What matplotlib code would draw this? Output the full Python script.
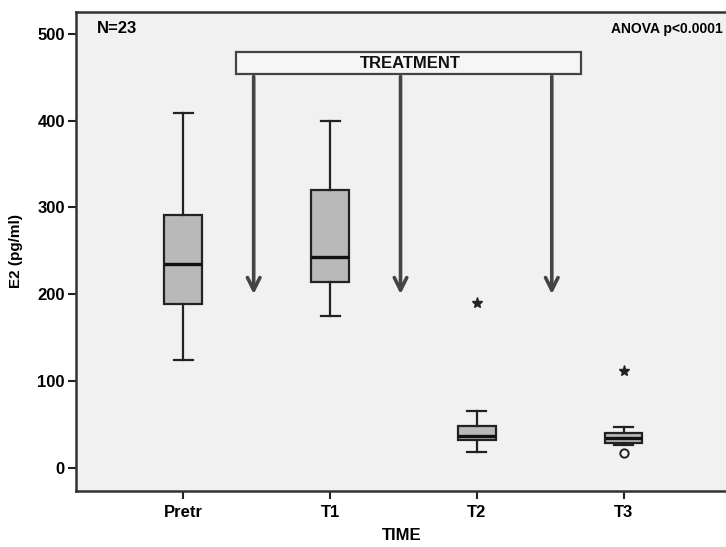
import matplotlib.pyplot as plt
from matplotlib.patches import Rectangle

plt.rcParams['font.family'] = ['Liberation Sans Narrow', 'Liberation Sans', 'DejaVu Sans']

# data (E2, pg/ml)
groups = ["Pretr", "T1", "T2", "T3"]
whis_lo = [124, 175, 18, 27]
q1 = [189, 214, 32, 29]
median = [235, 243, 37, 35]
q3 = [291, 320, 48, 40]
whis_hi = [409, 399, 66, 47]
extremes = {2: [190], 3: [112]}      # drawn as stars
outliers = {3: [17]}                 # drawn as circles
arrow_x = [0.48, 1.48, 2.51]
arrow_top = 454
arrow_tip = 197

fig = plt.figure(figsize=(7.26, 5.47), dpi=100)
ax = fig.add_axes([76 / 726, 1 - 491 / 547, 652 / 726, 479 / 547])
ax.set_facecolor('#f1f1f1')

stats = []
for i in range(len(groups)):
    stats.append(dict(med=median[i], q1=q1[i], q3=q3[i],
                      whislo=whis_lo[i], whishi=whis_hi[i], fliers=[]))
pos = list(range(len(groups)))
ax.bxp(stats, positions=pos, widths=0.255, patch_artist=True, showfliers=False,
       boxprops=dict(facecolor='#b9b9b9', edgecolor='#222222', linewidth=1.6),
       medianprops=dict(color='#111111', linewidth=2.4),
       whiskerprops=dict(color='#222222', linewidth=1.6),
       capprops=dict(color='#222222', linewidth=1.6),
       capwidths=0.13)

for i, vals in extremes.items():
    ax.plot([i] * len(vals), vals, linestyle='none', marker='*', markersize=8,
            color='#222222')
for i, vals in outliers.items():
    ax.plot([i] * len(vals), vals, linestyle='none', marker='o', markersize=6,
            markerfacecolor='#f1f1f1', markeredgecolor='#222222', markeredgewidth=1.4)

# treatment banner and arrows
ax.add_patch(Rectangle((0.36, 454), 2.35, 25, facecolor='#f6f6f6',
                       edgecolor='#444444', linewidth=1.6, zorder=3))
ax.text(1.55, 466, "TREATMENT", ha='center', va='center', fontsize=12,
        fontweight='bold', color='#111111', zorder=4)
for x in arrow_x:
    ax.annotate("", xy=(x, arrow_tip), xytext=(x, arrow_top),
                arrowprops=dict(arrowstyle='->,head_length=0.9,head_width=0.45',
                                color='#444444', linewidth=2.6))

ax.set_xlim(-0.73, 3.71)
ax.set_ylim(-26.5, 525)
ax.set_xticks(pos)
ax.set_xticklabels(groups, fontsize=12, fontweight='bold')
ax.set_yticks([0, 100, 200, 300, 400, 500])
ax.set_yticklabels(['0', '100', '200', '300', '400', '500'], fontsize=12, fontweight='bold')
ax.tick_params(length=6, width=1.5, color='#222222', pad=2)
ax.tick_params(axis='x', pad=4)
ax.set_xlabel("TIME", fontsize=12, fontweight='bold', labelpad=6)
ax.set_ylabel("E2 (pg/ml)", fontsize=11, fontweight='bold', labelpad=10)
for s in ax.spines.values():
    s.set_linewidth(1.8)
    s.set_color('#333333')

ax.text(0.032, 0.965, "N=23", transform=ax.transAxes, fontsize=12,
        fontweight='bold', va='center')
ax.text(0.82, 0.965, "ANOVA p<0.0001", transform=ax.transAxes, fontsize=10,
        fontweight='bold', va='center')

plt.savefig('out.png')
